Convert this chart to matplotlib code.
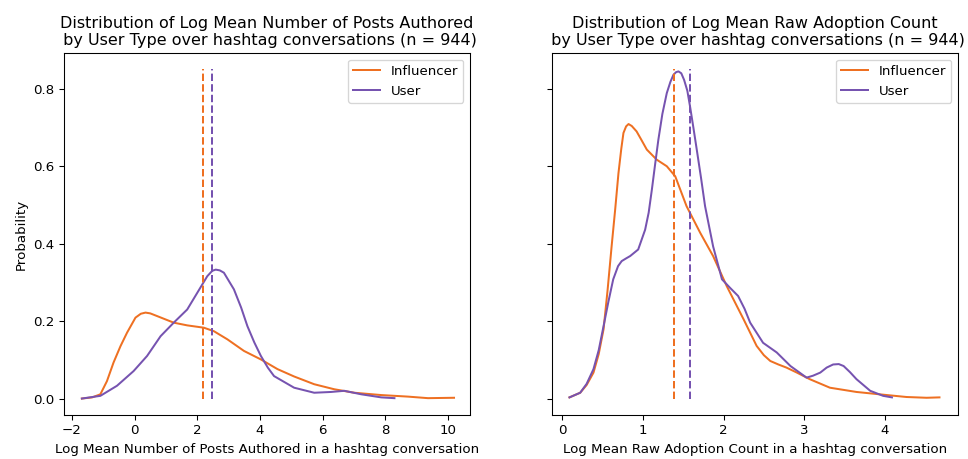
import matplotlib
matplotlib.use("Agg")
import matplotlib.pyplot as plt

# ---- Left panel: Log Mean Number of Posts Authored ----
posts_inf_x = [-1.68, -1.35, -1.09, -0.88, -0.67, -0.45, -0.24, 0.03, 0.2, 0.35, 0.5, 0.72, 1.0, 1.25, 1.68, 2.21, 2.53,
               2.96, 3.49, 4.03, 4.56, 5.09, 5.73, 6.37, 7.01, 7.87, 8.72, 9.36, 10.19]
posts_inf_y = [0.0, 0.003, 0.011, 0.045, 0.093, 0.135, 0.17, 0.209, 0.219, 0.222, 0.220, 0.213, 0.204, 0.196, 0.189, 0.183, 0.174,
               0.153, 0.123, 0.101, 0.076, 0.057, 0.037, 0.024, 0.015, 0.009, 0.005, 0.001, 0.002]
posts_usr_x = [-1.68, -1.09, -0.56, -0.03, 0.40, 0.83, 1.25, 1.68, 2.0, 2.32, 2.48, 2.59, 2.72,
               2.85, 3.17, 3.4, 3.6, 3.82, 4.03, 4.25, 4.45, 5.09, 5.73, 6.27, 6.69, 7.23, 7.87, 8.29]
posts_usr_y = [0.0, 0.007, 0.033, 0.071, 0.110, 0.161, 0.196, 0.230, 0.273, 0.316, 0.330, 0.333, 0.331,
               0.325, 0.282, 0.235, 0.187, 0.145, 0.11, 0.08, 0.058, 0.028, 0.015, 0.017, 0.020, 0.011, 0.003, 0.001]
posts_means = [2.19, 2.46]  # Influencer, User

# ---- Right panel: Log Mean Raw Adoption Count ----
adopt_inf_x = [0.087, 0.22, 0.3, 0.385, 0.45, 0.51, 0.56, 0.61, 0.655, 0.695, 0.73, 0.757, 0.79, 0.82, 0.86, 0.92, 0.98, 1.047, 1.17,
               1.295, 1.40, 1.54, 1.71, 1.87, 2.04, 2.25, 2.41, 2.5, 2.58, 2.68, 2.78, 2.91, 3.07,
               3.32, 3.65, 3.98, 4.27, 4.52, 4.68]
adopt_inf_y = [0.003, 0.015, 0.035, 0.067, 0.115, 0.179, 0.28, 0.393, 0.49, 0.582, 0.645, 0.686, 0.703, 0.709, 0.704, 0.69, 0.668, 0.643, 0.617,
               0.60, 0.574, 0.497, 0.428, 0.368, 0.29, 0.204, 0.136, 0.112, 0.097, 0.088, 0.080, 0.067, 0.05,
               0.028, 0.017, 0.010, 0.004, 0.002, 0.003]
adopt_usr_x = [0.087, 0.22, 0.3, 0.385, 0.45, 0.51, 0.57, 0.63, 0.69, 0.735, 0.79, 0.84, 0.94, 1.026, 1.07, 1.11, 1.15, 1.19, 1.24,
               1.295, 1.34, 1.377, 1.41, 1.44, 1.475, 1.51, 1.55, 1.584, 1.625, 1.667, 1.72, 1.77, 1.87, 1.98, 2.08, 2.18, 2.26, 2.33,
               2.49, 2.66, 2.83, 3.03, 3.11, 3.20, 3.28, 3.36, 3.43, 3.49, 3.57, 3.65, 3.82, 3.98, 4.09]
adopt_usr_y = [0.003, 0.015, 0.038, 0.076, 0.125, 0.187, 0.25, 0.308, 0.342, 0.355, 0.362, 0.368, 0.385, 0.436, 0.48, 0.54, 0.605, 0.668, 0.735,
               0.789, 0.818, 0.836, 0.843, 0.845, 0.840, 0.823, 0.795, 0.754, 0.70, 0.643, 0.57, 0.497, 0.393, 0.308, 0.286, 0.265, 0.232, 0.196,
               0.144, 0.119, 0.084, 0.054, 0.059, 0.067, 0.08, 0.088, 0.089, 0.084, 0.068, 0.05, 0.020, 0.007, 0.003]
adopt_means = [1.386, 1.584]

labels = ["Influencer", "User"]
vline_top = 0.85

titles = ["Distribution of Log Mean Number of Posts Authored\n by User Type over hashtag conversations (n = 944)",
          "Distribution of Log Mean Raw Adoption Count\n by User Type over hashtag conversations (n = 944)"]
xlabels = ["Log Mean Number of Posts Authored in a hashtag conversation",
           "Log Mean Raw Adoption Count in a hashtag conversation"]

c_inf = "#ee7022"
c_usr = "#7653b0"

DPI = 96
fig = plt.figure(figsize=(968 / DPI, 459 / DPI), dpi=DPI)
ax1 = fig.add_axes([64 / 968, 1 - 415 / 459, (470 - 64) / 968, (415 - 53) / 459])
ax2 = fig.add_axes([552 / 968, 1 - 415 / 459, (958 - 552) / 968, (415 - 53) / 459], sharey=ax1)

panels = [
    (ax1, posts_inf_x, posts_inf_y, posts_usr_x, posts_usr_y, posts_means),
    (ax2, adopt_inf_x, adopt_inf_y, adopt_usr_x, adopt_usr_y, adopt_means),
]
for i, (ax, ix, iy, ux, uy, means) in enumerate(panels):
    ax.plot(ix, iy, color=c_inf, lw=1.5, label=labels[0])
    ax.plot(ux, uy, color=c_usr, lw=1.5, label=labels[1])
    ax.vlines(means[0], 0, vline_top, colors=c_inf, linestyles="--", lw=1.5)
    ax.vlines(means[1], 0, vline_top, colors=c_usr, linestyles="--", lw=1.5)
    ax.set_title(titles[i], fontsize=12)
    ax.set_xlabel(xlabels[i], fontsize=10)
    ax.legend(loc="upper right", fontsize=10)

ax1.set_ylabel("Probability", fontsize=10)
ax1.set_xticks([-2, 0, 2, 4, 6, 8, 10])
ax2.set_xticks([0, 1, 2, 3, 4])
ax1.set_yticks([0.0, 0.2, 0.4, 0.6, 0.8])
ax1.set_ylim(-0.0425, 0.8925)
ax1.set_xlim(-2.25, 10.7)
ax2.set_xlim(-0.13, 4.91)
plt.setp(ax2.get_yticklabels(), visible=False)

fig.savefig("out.png", dpi=DPI)
